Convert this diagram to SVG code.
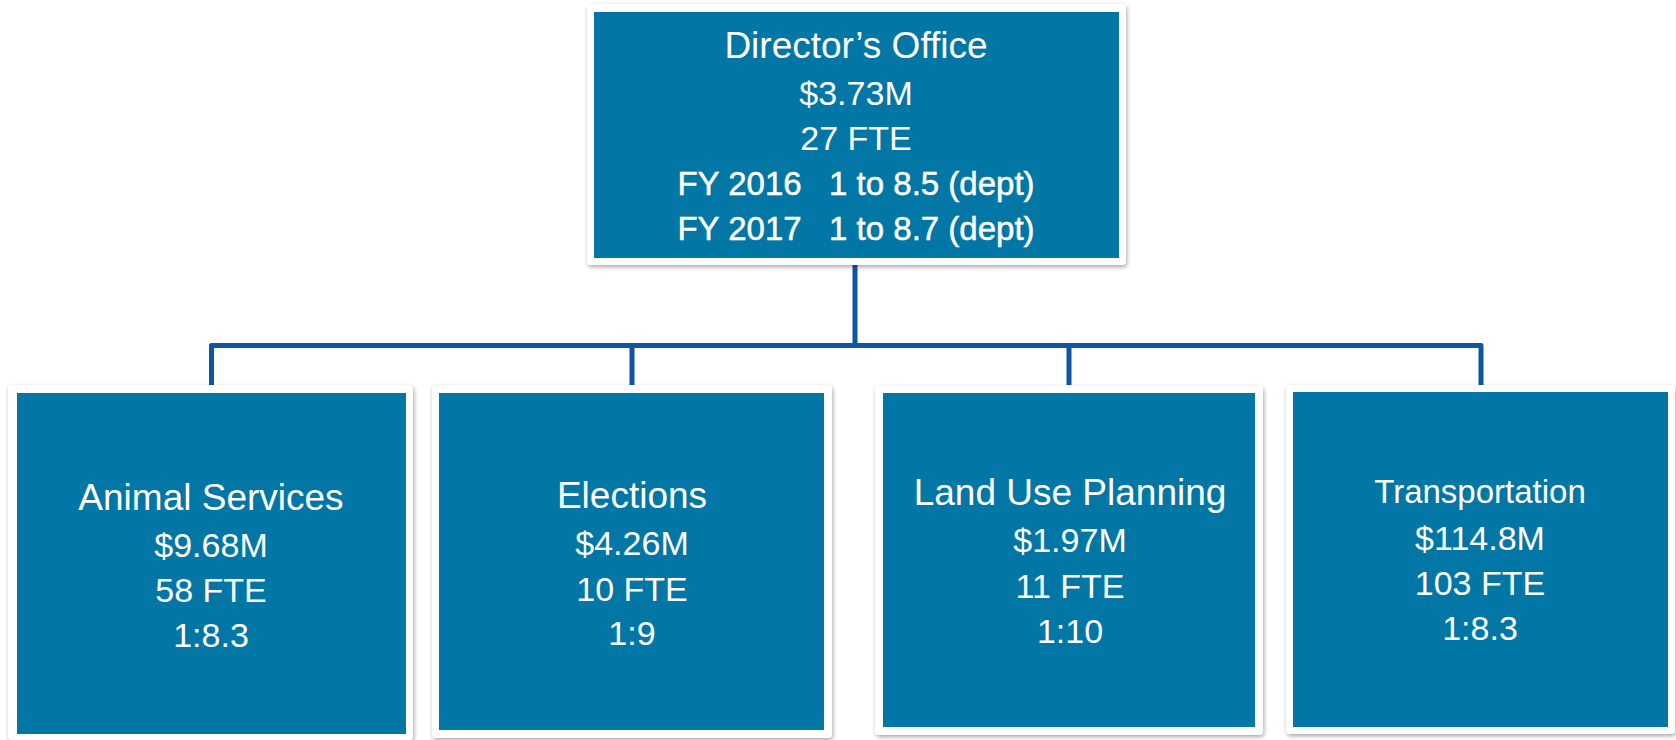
<svg xmlns="http://www.w3.org/2000/svg" width="1676" height="740" viewBox="0 0 1676 740">
<defs>
<filter id="sh" x="-5%" y="-5%" width="110%" height="110%">
<feDropShadow dx="1" dy="2" stdDeviation="2" flood-color="#000" flood-opacity="0.35"/>
</filter>
<style>
.frame{fill:#fff;filter:url(#sh)}
.box{fill:#0277A5}
.t{font-family:"Liberation Sans",Arial,sans-serif;fill:#fff;text-anchor:middle}
.title{font-size:37px}
.sub{font-size:34px}
.fy{font-size:33px;stroke:#fff;stroke-width:0.5}
.conn{fill:none;stroke:#0E56A0;stroke-width:5;stroke-linejoin:round}
</style>
</defs>
<rect width="1676" height="740" fill="#fff"/>
<g id="connectors">
<path class="conn" d="M855,265 V345.5 H211.5 V385"/>
<path class="conn" d="M632,345.5 V385"/>
<path class="conn" d="M855,345.5 H1481 V385"/>
<path class="conn" d="M1069,345.5 V385"/>
</g>
<g id="directors-office">
<rect class="frame" x="587" y="4" width="539" height="261" rx="4"/>
<rect class="box" x="594" y="12" width="525" height="246"/>
<text class="t title" x="856" y="58">Director’s Office</text>
<text class="t sub" x="856" y="105">$3.73M</text>
<text class="t sub" x="856" y="150">27 FTE</text>
<text class="t fy" x="856" y="195" xml:space="preserve">FY 2016   1 to 8.5 (dept)</text>
<text class="t fy" x="856" y="240" xml:space="preserve">FY 2017   1 to 8.7 (dept)</text>
</g>
<g id="animal-services">
<rect class="frame" x="8" y="385" width="405" height="355" rx="4"/>
<rect class="box" x="17" y="393" width="389" height="341"/>
<text class="t title" x="211" y="510">Animal Services</text>
<text class="t sub" x="211" y="557">$9.68M</text>
<text class="t sub" x="211" y="602">58 FTE</text>
<text class="t sub" x="211" y="647">1:8.3</text>
</g>
<g id="elections">
<rect class="frame" x="432" y="385" width="400" height="353" rx="4"/>
<rect class="box" x="439" y="393" width="385" height="337"/>
<text class="t title" x="632" y="508">Elections</text>
<text class="t sub" x="632" y="555">$4.26M</text>
<text class="t sub" x="632" y="601">10 FTE</text>
<text class="t sub" x="632" y="645">1:9</text>
</g>
<g id="land-use-planning">
<rect class="frame" x="875" y="386" width="388" height="349" rx="4"/>
<rect class="box" x="883" y="393" width="372" height="334"/>
<text class="t title" x="1070" y="505">Land Use Planning</text>
<text class="t sub" x="1070" y="552">$1.97M</text>
<text class="t sub" x="1070" y="598">11 FTE</text>
<text class="t sub" x="1070" y="643">1:10</text>
</g>
<g id="transportation">
<rect class="frame" x="1286" y="385" width="389" height="349" rx="4"/>
<rect class="box" x="1293" y="392" width="375" height="335"/>
<text class="t title" x="1480" y="503" style="font-size:33px">Transportation</text>
<text class="t sub" x="1480" y="550">$114.8M</text>
<text class="t sub" x="1480" y="595">103 FTE</text>
<text class="t sub" x="1480" y="640">1:8.3</text>
</g>
</svg>
